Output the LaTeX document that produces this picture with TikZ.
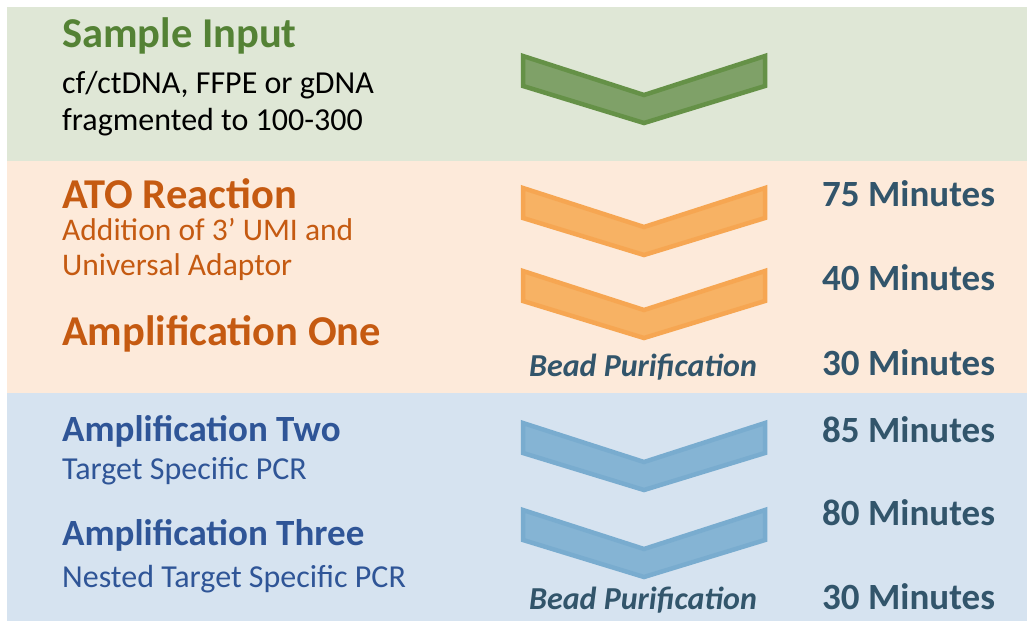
\documentclass[tikz,border=0pt]{standalone}
\usepackage{fontspec}
\setmainfont{Carlito}
\usepackage{tikz}
\definecolor{bandgreen}{RGB}{223,231,214}
\definecolor{bandorange}{RGB}{253,234,218}
\definecolor{bandblue}{RGB}{214,227,240}
\definecolor{textgreen}{RGB}{84,130,53}
\definecolor{textorange}{RGB}{197,90,17}
\definecolor{textblue}{RGB}{47,85,151}
\definecolor{timeslate}{RGB}{50,85,107}
\definecolor{greenfill}{RGB}{127,161,104}
\definecolor{greenline}{RGB}{101,145,71}
\definecolor{orangefill}{RGB}{247,178,100}
\definecolor{orangeline}{RGB}{246,166,82}
\definecolor{bluefill}{RGB}{133,180,212}
\definecolor{blueline}{RGB}{121,172,207}
\usetikzlibrary{positioning}

\begin{document}
\begin{tikzpicture}[x=1pt, y=-1pt,
    chev/.style={fill=#1fill, draw=#1line, line width=4.5pt, line join=miter},
    txt/.style={anchor=base west, inner sep=0pt},
    bighead/.style={txt, text depth=0pt, font=\bfseries\fontsize{42.5}{50}\selectfont},
    midhead/.style={txt, font=\bfseries\fontsize{37}{44}\selectfont},
    subtext/.style={txt, font=\fontsize{32}{38}\selectfont},
    timetext/.style={txt, text=timeslate, font=\bfseries\fontsize{37}{44}\selectfont},
    beadtext/.style={anchor=base, inner sep=0pt, text=timeslate, font=\bfseries\itshape\fontsize{32}{38}\selectfont}]
    \useasboundingbox (0,0) rectangle (1027,621);

    % background bands
    \fill[white] (0,0) rectangle (1027,621);
    \fill[bandgreen] (7,7) rectangle (1027,161);
    \fill[bandorange] (7,161) rectangle (1027,393);
    \fill[bandblue] (7,393) rectangle (1027,621);

    % chevrons
    \foreach \t/\c in {53/green, 185/orange, 268/orange, 420/blue, 507/blue}
        \draw[chev=\c] (523,\t+3) -- (644,\t+42) -- (765,\t+3) -- (765,\t+33)
            -- (644,\t+70) -- (523,\t+33) -- cycle;

    % left column
    \node[bighead, text=textgreen] (sampletitle) at (62,47) {Sample Input};
    \node[subtext] (sampletext1) at (62,93) {cf/ctDNA, FFPE or gDNA};
    \node[subtext] (sampletext2) at (62,130) {fragmented to 100-300};

    \node[bighead, text=textorange] (atotitle) at (62,208) {ATO Reaction};
    \node[subtext, text=textorange, text height=20pt, font=\fontsize{31.5}{37}\selectfont] (atotext1) at (62,240) {Addition of 3’ UMI and};
    \node[subtext, text=textorange, font=\fontsize{31.5}{37}\selectfont] (atotext2) at (62,275) {Universal Adaptor};
    \node[bighead, text=textorange] (amponetitle) at (62,345) {Amplification One};

    \node[midhead, text=textblue] (amptwotitle) at (62,441) {Amplification Two};
    \node[subtext, text=textblue] (amptwotext) at (62,479) {Target Specific PCR};
    \node[midhead, text=textblue] (ampthreetitle) at (62,545) {Amplification Three};
    \node[subtext, text=textblue] (ampthreetext) at (62,587) {Nested Target Specific PCR};

    % bead purification
    \node[beadtext] (bead1) at (643,376) {Bead Purification};
    \node[beadtext] (bead2) at (643,609) {Bead Purification};

    % times
    \node[timetext] (time1) at (822,206) {75 Minutes};
    \node[timetext] (time2) at (822,290) {40 Minutes};
    \node[timetext] (time3) at (822,375) {30 Minutes};
    \node[timetext] (time4) at (822,442) {85 Minutes};
    \node[timetext] (time5) at (822,525) {80 Minutes};
    \node[timetext] (time6) at (822,609) {30 Minutes};
\end{tikzpicture}
\end{document}
